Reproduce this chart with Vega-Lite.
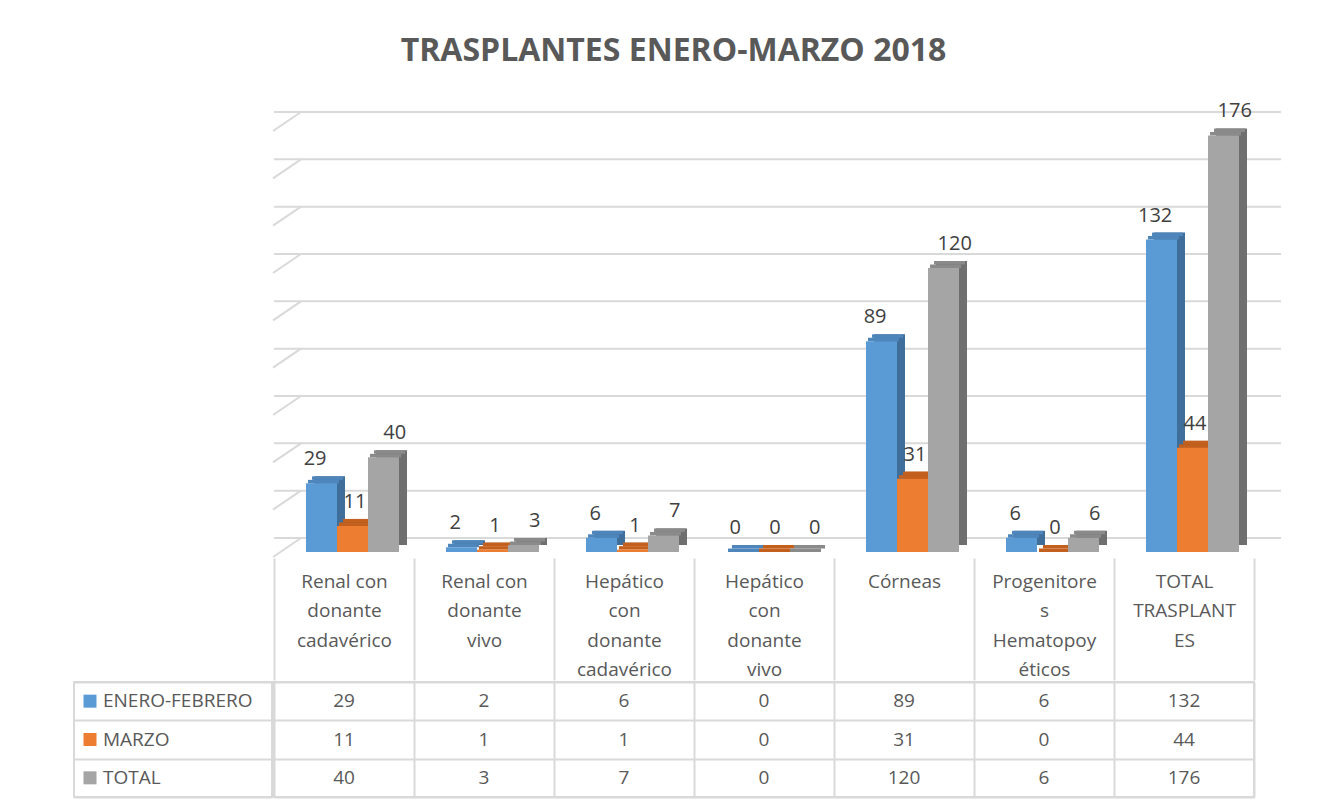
{
  "$schema": "https://vega.github.io/schema/vega-lite/v6.json",
  "background": "white",
  "padding": {"left": 73, "top": 35, "right": 5, "bottom": 5},
  "title": {"text": "TRASPLANTES ENERO-MARZO 2018", "font": "Open Sans", "fontSize": 32, "fontWeight": "bold", "color": "#595959", "anchor": "middle", "offset": 33, "dx": -4},
  "config": {"font": "Open Sans", "view": {"stroke": null}},
  "datasets": {
    "trasplantes": [
      {"cat": "Renal con donante cadavérico", "serie": "ENERO-FEBRERO", "valor": 29},
      {"cat": "Renal con donante vivo", "serie": "ENERO-FEBRERO", "valor": 2},
      {"cat": "Hepático con donante cadavérico", "serie": "ENERO-FEBRERO", "valor": 6},
      {"cat": "Hepático con donante vivo", "serie": "ENERO-FEBRERO", "valor": 0},
      {"cat": "Córneas", "serie": "ENERO-FEBRERO", "valor": 89},
      {"cat": "Progenitores Hematopoyéticos", "serie": "ENERO-FEBRERO", "valor": 6},
      {"cat": "TOTAL TRASPLANTES", "serie": "ENERO-FEBRERO", "valor": 132},
      {"cat": "Renal con donante cadavérico", "serie": "MARZO", "valor": 11},
      {"cat": "Renal con donante vivo", "serie": "MARZO", "valor": 1},
      {"cat": "Hepático con donante cadavérico", "serie": "MARZO", "valor": 1},
      {"cat": "Hepático con donante vivo", "serie": "MARZO", "valor": 0},
      {"cat": "Córneas", "serie": "MARZO", "valor": 31},
      {"cat": "Progenitores Hematopoyéticos", "serie": "MARZO", "valor": 0},
      {"cat": "TOTAL TRASPLANTES", "serie": "MARZO", "valor": 44},
      {"cat": "Renal con donante cadavérico", "serie": "TOTAL", "valor": 40},
      {"cat": "Renal con donante vivo", "serie": "TOTAL", "valor": 3},
      {"cat": "Hepático con donante cadavérico", "serie": "TOTAL", "valor": 7},
      {"cat": "Hepático con donante vivo", "serie": "TOTAL", "valor": 0},
      {"cat": "Córneas", "serie": "TOTAL", "valor": 120},
      {"cat": "Progenitores Hematopoyéticos", "serie": "TOTAL", "valor": 6},
      {"cat": "TOTAL TRASPLANTES", "serie": "TOTAL", "valor": 176}
    ],
    "series": [
      {"serie": "ENERO-FEBRERO"},
      {"serie": "MARZO"},
      {"serie": "TOTAL"}
    ],
    "grid": [
      {"v": 0}, {"v": 20}, {"v": 40}, {"v": 60}, {"v": 80},
      {"v": 100}, {"v": 120}, {"v": 140}, {"v": 160}, {"v": 180}
    ]
  },
  "spacing": 0,
  "vconcat": [
    {
      "spacing": 0,
      "hconcat": [
        {
          "width": 198,
          "height": 426,
          "data": {"values": [{}]},
          "mark": {"type": "text", "text": ""},
          "encoding": {}
        },
        {
          "width": 980,
          "height": 426,
          "layer": [
            {
              "data": {"name": "grid"},
              "mark": {"type": "rule", "color": "#D9D9D9", "strokeWidth": 2, "xOffset": 27, "x2Offset": 27, "yOffset": -14},
              "encoding": {
                "y": {"field": "v", "type": "quantitative", "scale": {"domain": [0, 180], "nice": false, "zero": true}, "axis": null}
              }
            },
            {
              "data": {"name": "grid"},
              "mark": {"type": "rule", "color": "#D9D9D9", "strokeWidth": 2, "xOffset": -71, "x2Offset": -43, "yOffset": 5, "y2Offset": -14},
              "encoding": {
                "x": {"datum": "Renal con donante cadavérico", "type": "nominal"},
                "x2": {"datum": "Renal con donante cadavérico"},
                "y": {"field": "v", "type": "quantitative", "scale": {"domain": [0, 180], "nice": false, "zero": true}, "axis": null},
                "y2": {"field": "v"}
              }
            },
            {
              "data": {"name": "trasplantes"},
              "encoding": {
                "x": {
                  "field": "cat", "type": "nominal", "sort": null,
                  "scale": {"domain": ["Renal con donante cadavérico", "Renal con donante vivo", "Hepático con donante cadavérico", "Hepático con donante vivo", "Córneas", "Progenitores Hematopoyéticos", "TOTAL TRASPLANTES"], "paddingInner": 0, "paddingOuter": 0},
                  "axis": {
                    "title": null, "orient": "bottom", "domain": false, "grid": false,
                    "ticks": true, "tickBand": "extent", "tickSize": 122, "tickColor": "#D9D9D9", "tickWidth": 2,
                    "offset": 6, "labelAngle": 0, "labelAlign": "center", "labelBaseline": "top",
                    "labelPadding": -108, "labelFont": "Open Sans", "labelFontSize": 19, "labelColor": "#595959",
                    "labelLineHeight": 29.5, "labelBound": false, "labelOverlap": false, "labelLimit": 0,
                    "labelExpr": "{'Renal con donante cadavérico': ['Renal con','donante','cadavérico'], 'Renal con donante vivo': ['Renal con','donante','vivo'], 'Hepático con donante cadavérico': ['Hepático','con','donante','cadavérico'], 'Hepático con donante vivo': ['Hepático','con','donante','vivo'], 'Córneas': ['Córneas'], 'Progenitores Hematopoyéticos': ['Progenitore','s','Hematopoy','éticos'], 'TOTAL TRASPLANTES': ['TOTAL','TRASPLANT','ES']}[datum.value]"
                  }
                },
                "y": {"field": "valor", "type": "quantitative", "scale": {"domain": [0, 180], "nice": false, "zero": true}, "axis": null}
              },
              "resolve": {"scale": {"xOffset": "independent", "color": "independent"}},
              "layer": [
                {
                  "mark": {"type": "bar", "yOffset": -7, "y2Offset": -7},
                  "encoding": {
                    "xOffset": {"field": "serie", "type": "nominal", "sort": null, "scale": {"paddingInner": 0, "paddingOuter": 0.758, "align": 0.851}},
                    "color": {"field": "serie", "type": "nominal", "sort": null, "scale": {"range": ["#3F6E9A", "#A9531A", "#6F6F6F"]}, "legend": null}
                  }
                },
                {
                  "mark": {"type": "bar", "yOffset": -7, "y2Offset": -3.5},
                  "encoding": {
                    "y2": {"field": "valor"},
                    "xOffset": {"field": "serie", "type": "nominal", "sort": null, "scale": {"paddingInner": 0, "paddingOuter": 0.758, "align": 0.809}},
                    "color": {"field": "serie", "type": "nominal", "sort": null, "scale": {"range": ["#4E86BC", "#C4601E", "#8A8A8A"]}, "legend": null}
                  }
                },
                {
                  "mark": {"type": "bar", "yOffset": -3.5},
                  "encoding": {
                    "y2": {"field": "valor"},
                    "xOffset": {"field": "serie", "type": "nominal", "sort": null, "scale": {"paddingInner": 0, "paddingOuter": 0.758, "align": 0.723}},
                    "color": {"field": "serie", "type": "nominal", "sort": null, "scale": {"range": ["#4E86BC", "#C4601E", "#8A8A8A"]}, "legend": null}
                  }
                },
                {
                  "mark": {"type": "bar"},
                  "encoding": {
                    "xOffset": {"field": "serie", "type": "nominal", "sort": null, "scale": {"paddingInner": 0, "paddingOuter": 0.758, "align": 0.681}},
                    "color": {"field": "serie", "type": "nominal", "sort": null, "scale": {"range": ["#5B9BD5", "#ED7D31", "#A5A5A5"]}, "legend": null}
                  }
                },
                {
                  "mark": {"type": "text", "dy": -24, "fontSize": 20, "color": "#404040", "baseline": "middle"},
                  "encoding": {
                    "xOffset": {"field": "serie", "type": "nominal", "sort": null, "scale": {"paddingInner": 0, "paddingOuter": 0.758, "align": 0.681}},
                    "text": {"field": "valor", "type": "quantitative"}
                  }
                }
              ]
            }
          ]
        }
      ]
    },
    {
      "spacing": 0,
      "hconcat": [
        {
          "width": 198,
          "height": 115,
          "data": {"name": "series"},
          "view": {"stroke": "#D9D9D9", "strokeWidth": 2},
          "encoding": {
            "y": {"field": "serie", "type": "nominal", "sort": null, "scale": {"paddingInner": 0, "paddingOuter": 0},
              "axis": {"title": null, "labels": false, "ticks": false, "domain": false, "grid": true, "tickBand": "extent", "gridColor": "#D9D9D9", "gridWidth": 2}}
          },
          "layer": [
            {
              "mark": {"type": "square", "size": 169, "filled": true, "opacity": 1, "xOffset": -83},
              "encoding": {
                "color": {"field": "serie", "type": "nominal", "sort": null, "scale": {"range": ["#5B9BD5", "#ED7D31", "#A5A5A5"]}, "legend": null}
              }
            },
            {
              "mark": {"type": "text", "align": "left", "dx": -70, "fontSize": 19, "color": "#595959", "baseline": "middle"},
              "encoding": {"text": {"field": "serie"}}
            }
          ]
        },
        {
          "width": 980,
          "height": 115,
          "data": {"name": "trasplantes"},
          "view": {"stroke": "#D9D9D9", "strokeWidth": 2},
          "mark": {"type": "text", "fontSize": 19, "color": "#595959", "baseline": "middle"},
          "encoding": {
            "x": {"field": "cat", "type": "nominal", "sort": null, "scale": {"paddingInner": 0, "paddingOuter": 0},
              "axis": {"title": null, "labels": false, "ticks": false, "domain": false, "grid": true, "tickBand": "extent", "gridColor": "#D9D9D9", "gridWidth": 2}},
            "y": {"field": "serie", "type": "nominal", "sort": null, "scale": {"paddingInner": 0, "paddingOuter": 0},
              "axis": {"title": null, "labels": false, "ticks": false, "domain": false, "grid": true, "tickBand": "extent", "gridColor": "#D9D9D9", "gridWidth": 2}},
            "text": {"field": "valor", "type": "quantitative"}
          }
        }
      ]
    }
  ]
}
